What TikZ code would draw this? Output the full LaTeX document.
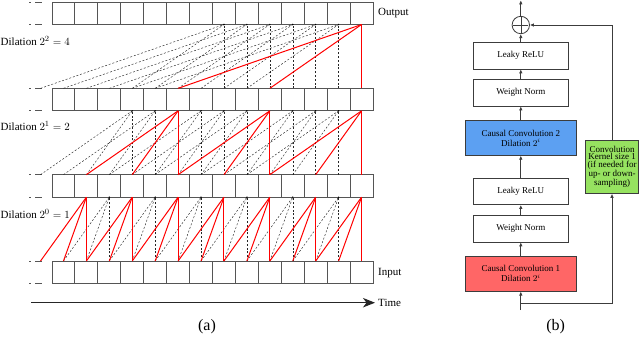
\documentclass[tikz,border=0pt]{standalone}
\usepackage{fontspec}
\setmainfont{Liberation Serif}
\usetikzlibrary{arrows.meta}
\definecolor{boxline}{RGB}{85,85,85}
\definecolor{darkline}{RGB}{60,60,60}
\definecolor{convblue}{RGB}{92,160,242}
\definecolor{convred}{RGB}{255,102,102}
\definecolor{kgreen}{RGB}{150,226,96}
\begin{document}
\begin{tikzpicture}[x=1pt,y=-1pt,
  cell/.style={draw=boxline, line width=0.9pt, minimum width=22.93pt, minimum height=22.5pt, inner sep=0pt, outer sep=0pt},
  dashconn/.style={black!85, line width=0.45pt, dash pattern=on 2pt off 1.8pt},
  redconn/.style={red, line width=1pt},
  leader/.style={boxline, line width=0.8pt},
  lbl/.style={font=\fontsize{11}{13}\selectfont, anchor=west, inner sep=0pt},
  blk/.style={draw=darkline, line width=0.8pt, minimum width=95pt, minimum height=26.5pt, inner sep=0pt, font=\fontsize{9}{10}\selectfont, align=center, fill=white},
  conv/.style={blk, minimum width=110.3pt, minimum height=34.5pt},
  flow/.style={darkline, line width=0.9pt, -{Latex[length=4pt,width=3.6pt]}},
  caplbl/.style={font=\fontsize{16}{18}\selectfont, inner sep=0pt}
]
\useasboundingbox (0,0) rectangle (640,360);

% ---------- (a) rows of cells ----------
\foreach \k/\yt in {1/2, 2/88.33, 3/174.67, 4/261} {
  \foreach \i in {0,...,13}
    \node[cell] (c\k-\i) at ({63.46+22.93*\i}, {\yt+11.25}) {};
  \foreach \i in {-1,...,13} {
    \coordinate (t\k-\i) at ({63.46+22.93*\i}, \yt);
    \coordinate (b\k-\i) at ({63.46+22.93*\i}, {\yt+22.5});
  }
  \foreach \yy in {\yt, \yt+22.5} {
    \draw[leader] (29,\yy) -- (30.6,\yy);
    \draw[leader] (35,\yy) -- (41.7,\yy);
  }
}

% dashed connections
\foreach \lo/\up/\d/\s in {4/3/1/1, 3/2/2/3, 2/1/4/7} {
  \foreach \i in {\s,...,13} {
    \pgfmathtruncatemacro\ja{\i-\d}
    \pgfmathtruncatemacro\jb{\i-2*\d}
    \pgfmathtruncatemacro\isred{mod(13-\i,2*\d)==0}
    \ifnum\isred=0
      \draw[dashconn] (t\lo-\i) -- (b\up-\i);
      \draw[dashconn] (t\lo-\ja) -- (b\up-\i);
      \draw[dashconn] (t\lo-\jb) -- (b\up-\i);
      \fill (b\up-\i) circle (0.8pt);
    \fi
  }
}
% red connections (receptive field)
\foreach \lo/\up/\d/\s in {4/3/1/1, 3/2/2/3, 2/1/4/7} {
  \foreach \i in {\s,...,13} {
    \pgfmathtruncatemacro\ja{\i-\d}
    \pgfmathtruncatemacro\jb{\i-2*\d}
    \pgfmathtruncatemacro\isred{mod(13-\i,2*\d)==0}
    \ifnum\isred=1
      \draw[redconn] (t\lo-\i) -- (b\up-\i);
      \draw[redconn] (t\lo-\ja) -- (b\up-\i);
      \draw[redconn] (t\lo-\jb) -- (b\up-\i);
    \fi
  }
}

% labels
\node[lbl] (outl) at (378, 13.5) {Output};
\node[lbl] (inl) at (378, 273) {Input};
\node[lbl] (timel) at (378, 303) {Time};
\node[lbl] (d4) at (0.5, 41) {Dilation $2^2=4$};
\node[lbl] (d2) at (0.5, 126) {Dilation $2^1=2$};
\node[lbl] (d1) at (0.5, 214) {Dilation $2^0=1$};
\coordinate (tstart) at (31, 302.7);
\coordinate (tend) at (375, 302.7);
\draw[black!85, line width=1.1pt, -{Stealth[length=12pt,width=9.5pt,inset=3.5pt]}] (tstart) -- (tend);
\node[caplbl] (capa) at (207, 327) {(a)};

% ---------- (b) residual block ----------
\node[blk] (lr1) at (520.8, 55.7) {Leaky ReLU};
\node[blk] (wn1) at (520.8, 92.7) {Weight Norm};
\node[conv, fill=convblue] (cc2) at (520.8, 138) {Causal Convolution 2\\Dilation $2^i$};
\node[blk] (lr2) at (520.8, 191.3) {Leaky ReLU};
\node[blk] (wn2) at (520.8, 228.7) {Weight Norm};
\node[conv, fill=convred] (cc1) at (520.8, 273.9) {Causal Convolution 1\\Dilation $2^i$};
\node[draw=darkline, fill=white, circle, minimum size=17.4pt, inner sep=0pt, line width=0.8pt] (plus) at (520.8, 25) {};
\draw[darkline, line width=0.6pt, shorten >=1.5pt, shorten <=1.5pt] (plus.north) -- (plus.south);
\draw[darkline, line width=0.6pt, shorten >=1.5pt, shorten <=1.5pt] (plus.west) -- (plus.east);
\node[draw=darkline, line width=0.8pt, fill=kgreen, minimum width=52.6pt, minimum height=53.3pt, inner sep=0pt, align=center, font=\fontsize{9}{7.5}\selectfont] (res) at (612, 166.7) {Convolution\\Kernel size 1\\(if needed for\\up- or down-\\sampling)};
\coordinate (inp) at (520.8, 310);
\coordinate (split) at (520.8, 303.3);
\coordinate (outp) at (520.8, 0.3);

\draw[flow] (inp) -- (cc1);
\draw[flow] (cc1) -- (wn2);
\draw[flow] (wn2) -- (lr2);
\draw[flow] (lr2) -- (cc2);
\draw[flow] (cc2) -- (wn1);
\draw[flow] (wn1) -- (lr1);
\draw[flow] (lr1) -- (plus);
\draw[flow] (plus) -- (outp);
\draw[flow] (split) -| (res.south);
\draw[flow] (res.north) |- (plus.east);
\node[caplbl] (capb) at (555.7, 327) {(b)};
\end{tikzpicture}
\end{document}
